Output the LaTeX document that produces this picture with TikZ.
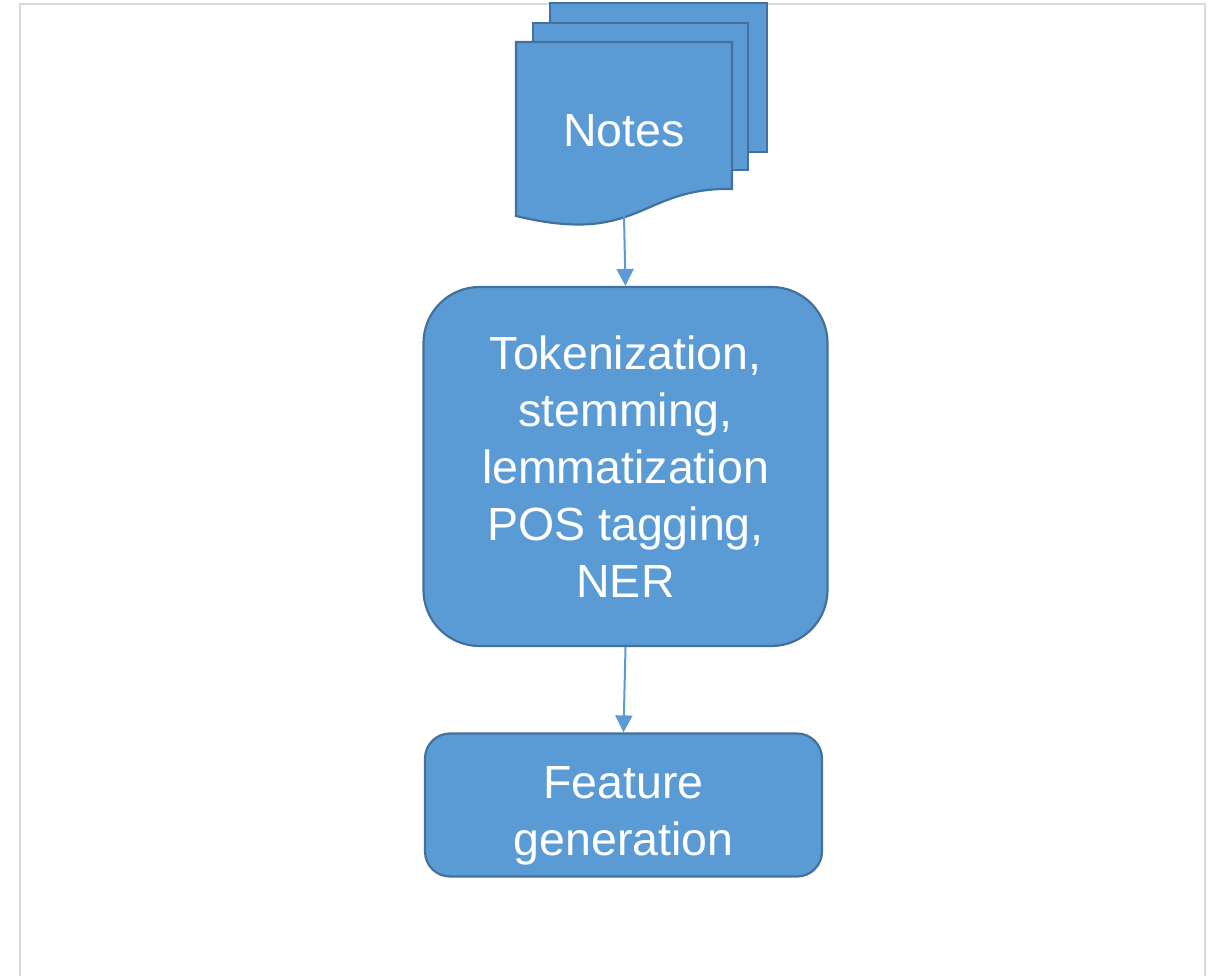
\documentclass[tikz,border=0pt]{standalone}
\usepackage{fontspec}
\setmainfont{Liberation Sans}
\usetikzlibrary{arrows.meta}
\definecolor{boxfill}{HTML}{5B9BD5}
\definecolor{boxline}{HTML}{41719C}
\definecolor{framegray}{HTML}{D9D9D9}
\tikzset{
  sheet/.style={fill=boxfill, draw=boxline, line width=2.2pt},
  flowbox/.style={rectangle, fill=boxfill, draw=boxline, line width=2.2pt,
    inner sep=0pt, text=white, font=\fontsize{46.5}{57}\selectfont, align=center},
  labeltext/.style={text=white, font=\fontsize{46.5}{57}\selectfont, inner sep=0pt, align=center},
  flowarrow/.style={draw=boxfill, line width=2pt, -{Triangle[length=17pt,width=17pt]}},
}
\begin{document}
\begin{tikzpicture}[x=1pt,y=-1pt]
\useasboundingbox (0,0) rectangle (1211,976);
% page frame
\draw[framegray, line width=2pt] (20,976) -- (20,4) -- (1205,4) -- (1205,976);
% stacked document sheets
\draw[sheet] (550,3) rectangle (767,152);
\draw[sheet] (533,23) rectangle (748,170);
\draw[sheet] (516,42) -- (732,42) -- (732,189)
  .. controls (640,187) and (640,246) .. (516,216) -- cycle;
\node[labeltext, anchor=base] (notes) at (624,147) {Notes};
\coordinate (docfoot) at (624,216);
% processing steps
\node[flowbox, minimum width=404pt, minimum height=359pt, rounded corners=56pt]
  (proc) at (625.5,466.5)
  {Tokenization,\\ stemming,\\ lemmatization\\ POS tagging,\\ NER};
\node[flowbox, minimum width=397pt, minimum height=143pt, rounded corners=25pt]
  (feat) at (623.5,805) {};
\node[labeltext] (featlabel) at ([yshift=-11pt]feat.center) {Feature\\ generation};
% connectors
\draw[flowarrow] (docfoot) -- (proc.north);
\draw[flowarrow] (proc.south) -- (feat.north);
\end{tikzpicture}
\end{document}
